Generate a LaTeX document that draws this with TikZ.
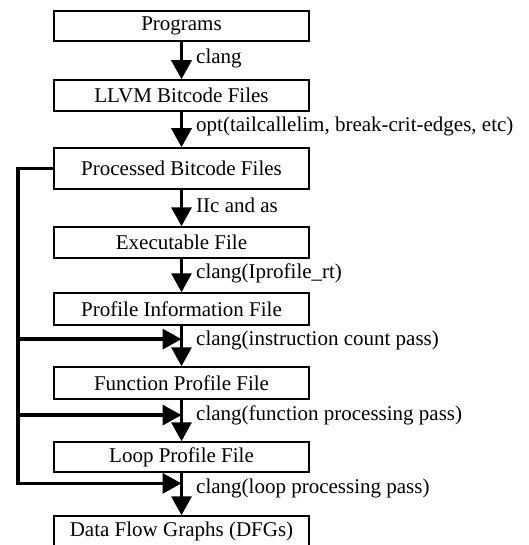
\documentclass[tikz,border=0pt]{standalone}
\usepackage{fontspec}
\setmainfont{Liberation Serif}
\usepackage{tikz}
\usetikzlibrary{arrows.meta,calc}

\begin{document}
\begin{tikzpicture}[x=1pt,y=1pt,
	box/.style={draw,line width=1.5pt,minimum width=255pt,inner sep=0pt},
	lbl/.style={anchor=west,inner sep=0pt},
	flow/.style={line width=3.5pt,-{Triangle[length=19pt,width=20pt]}},
	font=\fontsize{21}{24}\selectfont]
			\useasboundingbox (0,0) rectangle (528,-545);
			\clip (0,0) rectangle (528,-545);
			% Boxes
			\foreach \name/\y/\h/\txt in {prog/26/30/Programs,llvm/95.5/31/LLVM Bitcode Files,proc/168.5/41/Processed Bitcode Files,exe/242.5/31/Executable File,info/309/32/Profile Information File,func/383/32/Function Profile File,loop/457/30/Loop Profile File,dfg/531.5/31/Data Flow Graphs (DFGs)}
			\node[box,minimum height=\h pt] (\name) at (181.5,-\y) {\txt};
			% Main flow
			\foreach \a/\b in {prog/llvm,llvm/proc,proc/exe,exe/info,info/func,func/loop,loop/dfg}
			\draw[flow] (\a) -- (\b);
			% Labels
			\foreach \name/\y/\txt in {lclang/58/clang,lopt/126/{opt(tailcallelim, break-crit-edges, etc)},lllc/205/IIc and as,lprof/273/clang(Iprofile\_rt),lcount/340/clang(instruction count pass),lfunc/415/clang(function processing pass),lloop/488/clang(loop processing pass)}
			\node[lbl] (\name) at (196,-\y) {\txt};
			% Feedback from processed bitcode
			\coordinate (c1) at ($(info.south)!0.33!(func.north)$);
			\coordinate (c2) at ($(func.south)!0.37!(loop.north)$);
			\coordinate (c3) at ($(loop.south)!0.25!(dfg.north)$);
			\coordinate (lft) at (18,0);
			\draw[flow] (proc.west) -| (lft |- c3) -- (c3);
			\draw[flow] (lft |- c1) -- (c1);
			\draw[flow] (lft |- c2) -- (c2);
\end{tikzpicture}
\end{document}
